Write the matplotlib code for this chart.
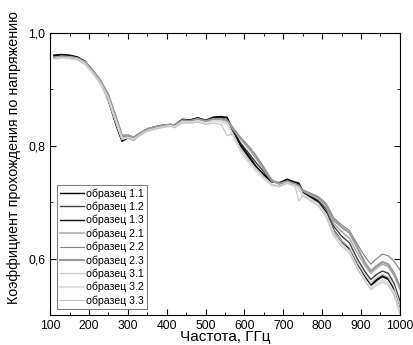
import numpy as np
import matplotlib.pyplot as plt
from matplotlib.ticker import MultipleLocator, FuncFormatter

plt.rcParams['font.family'] = ['Liberation Sans', 'DejaVu Sans']

freq = [110, 130, 150, 170, 190, 210, 230, 250, 270, 285, 300, 315, 330, 350, 370,
        390, 410, 420, 440, 460, 480, 500, 520, 540, 555, 570, 590, 610, 630, 650,
        670, 690, 710, 730, 740, 750, 770, 790, 810, 830, 850, 870, 890, 910, 925,
        940, 955, 970, 985, 1000]

s11 = [.961, .962, .961, .958, .950, .933, .914, .884, .840, .810, .816, .811, .820, .829, .833,
       .836, .838, .836, .847, .846, .850, .845, .851, .852, .850, .828, .800, .781, .762, .750,
       .737, .734, .741, .735, .733, .720, .711, .702, .683, .650, .632, .618, .590, .568, .553,
       .563, .570, .565, .546, .512]
s12 = [.958, .960, .959, .957, .950, .934, .916, .888, .845, .813, .818, .813, .821, .830, .834,
       .837, .838, .837, .847, .846, .849, .846, .850, .850, .846, .826, .805, .788, .770, .754,
       .738, .733, .738, .734, .730, .719, .712, .704, .688, .657, .640, .628, .600, .577, .563,
       .572, .578, .574, .556, .525]
s13 = [.960, .961, .960, .957, .949, .931, .912, .880, .836, .808, .814, .810, .819, .828, .832,
       .835, .837, .835, .846, .845, .849, .844, .850, .851, .851, .830, .803, .784, .764, .748,
       .736, .735, .740, .736, .734, .718, .709, .700, .680, .646, .629, .615, .588, .566, .551,
       .561, .568, .563, .543, .508]
s21 = [.957, .959, .958, .956, .949, .933, .916, .890, .850, .818, .819, .815, .822, .830, .833,
       .836, .838, .836, .845, .844, .848, .844, .848, .848, .845, .830, .812, .796, .778, .758,
       .738, .732, .737, .732, .728, .720, .713, .706, .692, .662, .648, .636, .610, .588, .574,
       .583, .590, .586, .570, .545]
s22 = [.956, .958, .957, .955, .948, .932, .914, .888, .848, .816, .818, .814, .821, .829, .833,
       .835, .837, .835, .844, .843, .847, .843, .847, .846, .844, .832, .815, .800, .783, .762,
       .740, .733, .736, .731, .727, .722, .716, .710, .698, .672, .660, .650, .626, .604, .590,
       .600, .608, .605, .595, .580]
s23 = [.956, .958, .957, .955, .948, .933, .915, .890, .850, .818, .819, .815, .822, .830, .833,
       .836, .837, .835, .845, .844, .847, .843, .847, .847, .845, .832, .814, .799, .781, .760,
       .739, .733, .737, .732, .729, .721, .715, .709, .696, .668, .656, .646, .620, .593, .578,
       .587, .594, .590, .574, .550]
s31 = [.955, .957, .956, .954, .946, .930, .911, .884, .842, .812, .815, .811, .819, .827, .831,
       .834, .836, .834, .843, .842, .845, .841, .845, .845, .842, .820, .792, .774, .758, .744,
       .732, .729, .735, .730, .726, .714, .706, .698, .680, .648, .632, .620, .595, .572, .558,
       .566, .572, .567, .550, .518]
s32 = [.954, .956, .955, .953, .945, .929, .910, .883, .842, .813, .815, .811, .818, .826, .830,
       .833, .835, .833, .842, .841, .844, .840, .844, .843, .840, .818, .790, .772, .755, .742,
       .730, .728, .734, .729, .724, .712, .704, .695, .676, .643, .626, .613, .586, .563, .549,
       .556, .562, .557, .540, .507]
s33 = [.955, .957, .956, .953, .945, .929, .910, .882, .840, .811, .814, .810, .818, .826, .830,
       .833, .835, .832, .841, .840, .842, .838, .840, .838, .818, .822, .795, .776, .760, .745,
       .731, .728, .734, .729, .702, .712, .702, .694, .674, .640, .622, .610, .582, .560, .545,
       .552, .558, .553, .535, .502]

labels = ['образец 1.1', 'образец 1.2', 'образец 1.3',
          'образец 2.1', 'образец 2.2', 'образец 2.3',
          'образец 3.1', 'образец 3.2', 'образец 3.3']
series = [s11, s12, s13, s21, s22, s23, s31, s32, s33]
colors = ['#000000', '#404040', '#111111', '#b0b0b0', '#808080', '#999999',
          '#cccccc', '#dddddd', '#c4c4c4']
widths = [1.0, 1.0, 1.0, 1.2, 0.8, 1.5, 0.9, 1.5, 0.8]

fig = plt.figure(figsize=(4.14, 3.45), dpi=100)
ax = fig.add_axes([0.121, 0.087, 0.845, 0.817])

for y, lab, c, w in zip(series, labels, colors, widths):
    ax.plot(freq, y, color=c, lw=w, label=lab)

ax.set_xlim(100, 1000)
ax.set_ylim(0.5, 1.0)
ax.xaxis.set_major_locator(MultipleLocator(100))
ax.xaxis.set_minor_locator(MultipleLocator(50))
ax.yaxis.set_major_locator(MultipleLocator(0.2))
ax.yaxis.set_minor_locator(MultipleLocator(0.1))
ax.yaxis.set_major_formatter(FuncFormatter(lambda v, p: f'{v:.1f}'.replace('.', ',')))
ax.tick_params(which='both', direction='in', top=True, right=True, labelsize=8.7)
ax.tick_params(which='major', length=4.5)
ax.tick_params(which='minor', length=2.5)
ax.set_xlabel('Частота, ГГц', fontsize=11)
ax.set_ylabel('Коэффициент прохождения по напряжению', fontsize=10.3)
ax.xaxis.set_label_coords(0.5, -0.055, transform=ax.transAxes)
ax.xaxis.label.set_va('top')
ax.yaxis.set_label_coords(-0.084, 0.56)

leg = ax.legend(loc='lower left', bbox_to_anchor=(0.01, 0.01), fontsize=7.6,
                fancybox=False, edgecolor='#808080', framealpha=1,
                handlelength=2.3, handletextpad=0.2, labelspacing=0.28,
                borderpad=0.3, borderaxespad=0.3)
leg.get_frame().set_linewidth(0.8)

fig.savefig('out.png', dpi=100)
